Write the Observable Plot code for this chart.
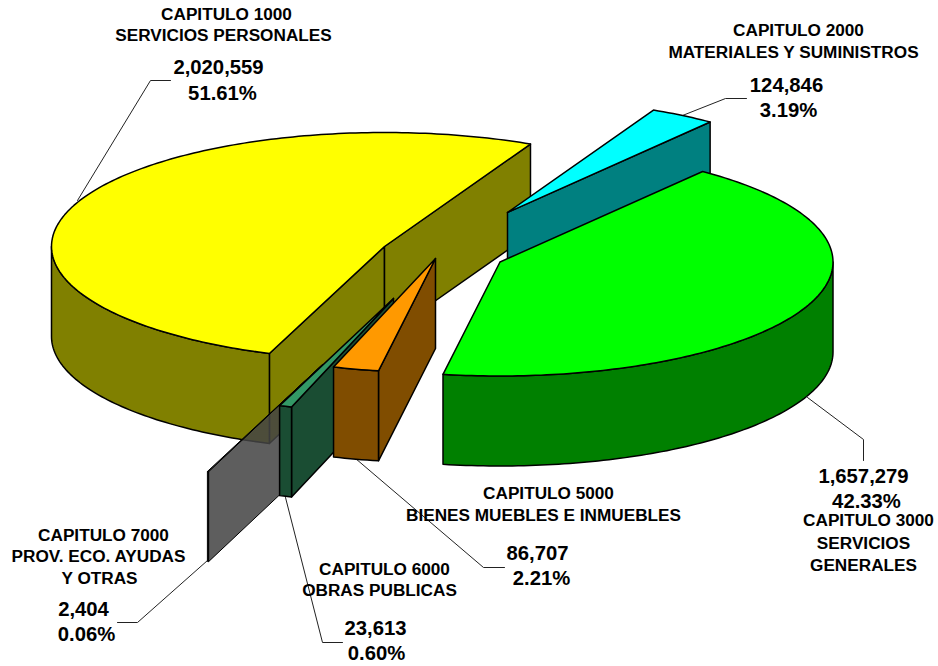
<!DOCTYPE html>
<html>
<head>
<meta charset="utf-8">
<script src="https://cdn.jsdelivr.net/npm/d3@7"></script>
<script src="https://cdn.jsdelivr.net/npm/@observablehq/plot@0.6"></script>
<style>
  html, body { margin: 0; padding: 0; background: #fff; }
  svg { display: block; }
</style>
</head>
<body>
<div id="chart"></div>
<script>
// Values, clockwise from the first slice after the start angle
const chapters = ["2000", "3000", "5000", "6000", "7000", "1000"];
const values = [124846, 1657279, 86707, 23613, 2404, 2020559];
const percents = ["3.19%", "42.33%", "2.21%", "0.60%", "0.06%", "51.61%"];
const descriptions = [
  ["MATERIALES Y SUMINISTROS"],
  ["SERVICIOS", "GENERALES"],
  ["BIENES MUEBLES E INMUEBLES"],
  ["OBRAS PUBLICAS"],
  ["PROV. ECO. AYUDAS", "Y OTRAS"],
  ["SERVICIOS PERSONALES"]
];
const topColors = ["#00ffff", "#00ff00", "#ff9900", "#339966", "url(#hatch)", "#ffff00"];
const sideColors = ["#008080", "#008000", "#804d00", "#1a4d33", "url(#hatch)", "#808000"];
const paintOrder = [5, 0, 1, 4, 3, 2];

// Pie view parameters: ellipse, wall depth, start angle, exploded apex of each slice
const pie = {rx: 333, ry: 114, depth: 90, start: 26};
const apexX = [507, 499.5, 435, 393, 322, 384];
const apexY = [212, 261.5, 258, 298, 364, 246];

// Annotation layout: [text, x, baseline, size]
const labelLayout = [
  ["CAPITULO 1000", 226, 19, "t"], ["SERVICIOS PERSONALES", 223, 40, "t"],
  ["2,020,559", 218, 73, "n"], ["51.61%", 222, 99, "n"],
  ["CAPITULO 2000", 798, 35, "t"], ["MATERIALES Y SUMINISTROS", 793, 57, "t"],
  ["124,846", 786, 91, "n"], ["3.19%", 788, 116, "n"],
  ["1,657,279", 863, 482, "n"], ["42.33%", 866, 507, "n"],
  ["CAPITULO 3000", 868, 525, "t"], ["SERVICIOS", 863, 548, "t"], ["GENERALES", 863, 570, "t"],
  ["CAPITULO 5000", 548, 498, "t"], ["BIENES MUEBLES E INMUEBLES", 543, 520, "t"],
  ["86,707", 537, 559, "n"], ["2.21%", 541, 584, "n"],
  ["CAPITULO 6000", 384, 574, "t"], ["OBRAS PUBLICAS", 379, 595, "t"],
  ["23,613", 375, 634, "n"], ["0.60%", 376, 659, "n"],
  ["CAPITULO 7000", 103, 540, "t"], ["PROV. ECO. AYUDAS", 98, 561, "t"], ["Y OTRAS", 99, 583, "t"],
  ["2,404", 83, 615, "n"], ["0.06%", 86, 640, "n"]
];
const leaders = [
  [[77, 200], [150, 80], [170, 80]],
  [[682, 115], [725, 98], [746, 98]],
  [[807, 397], [863, 439], [863, 460]],
  [[355, 458], [483, 567], [504, 567]],
  [[285, 497], [322, 642], [342, 642]],
  [[207, 560], [137, 622], [117, 622]]
];

const rad = d => d * Math.PI / 180;
const total = d3.sum(values);
let running = pie.start;
const slices = values.map((v, i) => {
  const a0 = running, a1 = running + v / total * 360;
  running = a1;
  return {i, a0, a1, ox: apexX[i], oy: apexY[i]};
});
const rimPoint = (s, a, h = 0) => ({
  x: s.ox + pie.rx * Math.sin(rad(a)),
  y: s.oy - pie.ry * Math.cos(rad(a)) + h
});
const arc = (s, a0, a1, h = 0) => {
  const n = Math.max(2, Math.ceil(Math.abs(a1 - a0)));
  return d3.range(n + 1).map(k => rimPoint(s, a0 + (a1 - a0) * k / n, h));
};
const close = pts => [...pts, pts[0]];

const faces = [];
for (const idx of paintOrder) {
  const s = slices[idx];
  const apex = {x: s.ox, y: s.oy};
  const apexLow = {x: s.ox, y: s.oy + pie.depth};
  const side = sideColors[idx], top = topColors[idx];
  // radial wall at the counter-clockwise end
  if (Math.sin(rad(s.a0)) < 0) {
    faces.push({pts: close([apex, rimPoint(s, s.a0), rimPoint(s, s.a0, pie.depth), apexLow]), fill: side, hatch: side.startsWith("url")});
  }
  // radial wall at the clockwise end
  if (Math.sin(rad(s.a1)) > 0) {
    faces.push({pts: close([apex, rimPoint(s, s.a1), rimPoint(s, s.a1, pie.depth), apexLow]), fill: side, hatch: side.startsWith("url")});
  }
  // outer rim, front half only
  const from = Math.max(s.a0, 90), to = Math.min(s.a1, 270);
  if (to > from) {
    faces.push({pts: close([...arc(s, from, to), ...arc(s, to, from, pie.depth)]), fill: side, hatch: side.startsWith("url")});
  }
  faces.push({pts: close([apex, ...arc(s, s.a0, s.a1)]), fill: top, hatch: top.startsWith("url")});
}

const hatchDefs = () => {
  const defs = d3.create("svg:defs");
  defs.html(`<pattern id="hatch" patternUnits="userSpaceOnUse" width="4" height="2">
    <rect width="4" height="1" fill="#2a2a2a" fill-opacity="0.86"/>
    <rect y="1" width="4" height="1" fill="#5e5e5e" fill-opacity="0.86"/>
  </pattern>`);
  return defs.node();
};

const chart = Plot.plot({
  width: 938,
  height: 666,
  margin: 0,
  x: {domain: [0, 938], range: [0, 938], axis: null},
  y: {domain: [0, 666], range: [0, 666], axis: null},
  style: {background: "#fff"},
  marks: [
    hatchDefs,
    ...leaders.map(l => Plot.line(l, {x: d => d[0], y: d => d[1], stroke: "#222", strokeWidth: 1})),
    ...faces.map(f => Plot.line(f.pts, {
      x: "x", y: "y", fill: f.fill,
      stroke: "#000", strokeWidth: f.hatch ? 1 : 1.5
    })),
    Plot.text(labelLayout.filter(d => d[3] === "t"), {
      x: d => d[1], y: d => d[2], text: d => d[0],
      textAnchor: "middle", lineAnchor: "bottom",
      fontFamily: "Liberation Sans", fontWeight: "bold", fontSize: 17.2, fill: "#000"
    }),
    Plot.text(labelLayout.filter(d => d[3] === "n"), {
      x: d => d[1], y: d => d[2], text: d => d[0],
      textAnchor: "middle", lineAnchor: "bottom",
      fontFamily: "Liberation Sans", fontWeight: "bold", fontSize: 20.3, fill: "#000"
    })
  ]
});
document.getElementById("chart").append(chart);
</script>
</body>
</html>
